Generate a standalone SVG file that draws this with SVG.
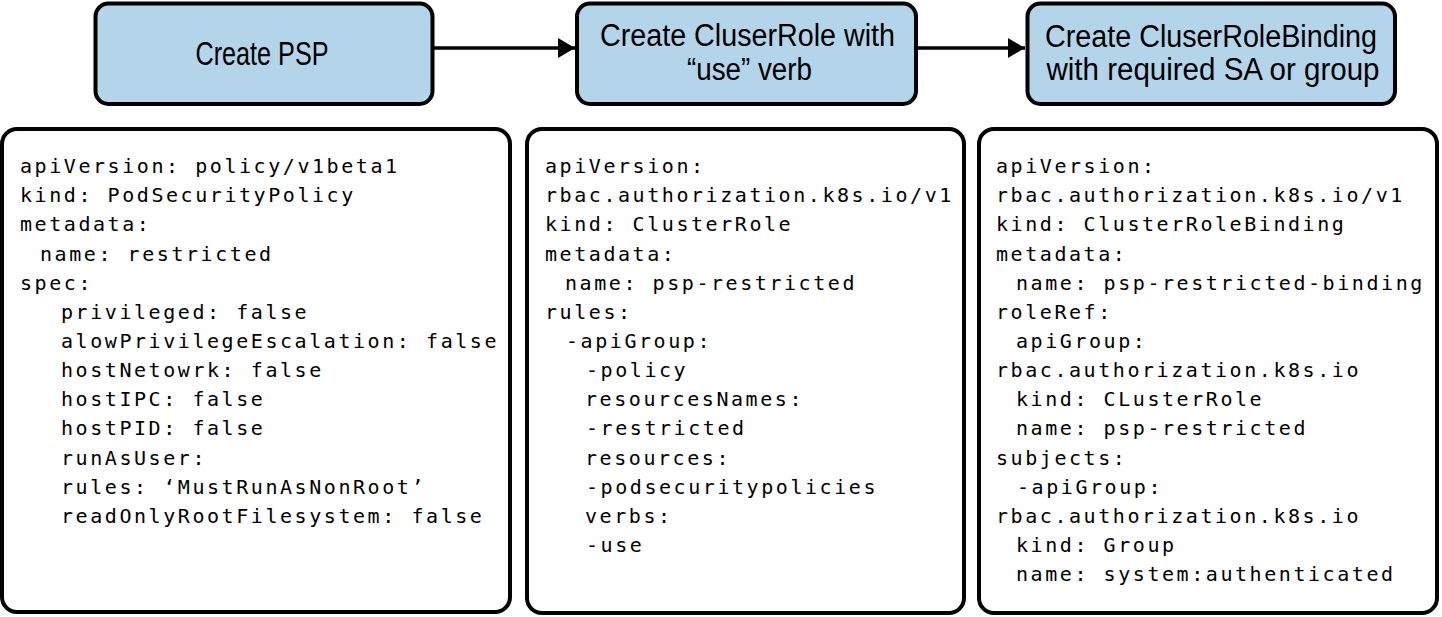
<svg xmlns="http://www.w3.org/2000/svg" width="1442" height="617" viewBox="0 0 1442 617">
<style>
.step{fill:#b3d4e9;stroke:#000;stroke-width:4}
.code{fill:#fff;stroke:#000;stroke-width:4}
.title{font-family:"Liberation Sans",Arial,sans-serif;font-size:31px;fill:#000;text-anchor:middle}
.mono{font-family:"DejaVu Sans Mono","Liberation Mono",monospace;font-size:20px;letter-spacing:2.56px;fill:#000}
.conn{stroke:#000;stroke-width:3.5;fill:none}
</style>
<defs>
<marker id="ah" markerUnits="userSpaceOnUse" markerWidth="18" markerHeight="20" refX="17" refY="10" orient="auto">
<path d="M0,0 L17,10 L0,20 Z" fill="#000"/>
</marker>
</defs>
<rect width="1442" height="617" fill="#fff"/>
<g id="connectors">
<line class="conn" x1="434" y1="48" x2="575" y2="48" marker-end="url(#ah)"/>
<line class="conn" x1="918" y1="48" x2="1025" y2="48" marker-end="url(#ah)"/>
</g>
<g id="step1">
<rect class="step" x="95.5" y="3.5" width="337" height="100.5" rx="13"/>
<text class="title" x="262" y="65" style="font-size:33px" textLength="133" lengthAdjust="spacingAndGlyphs">Create PSP</text>
</g>
<g id="step2">
<rect class="step" x="577" y="3.5" width="339" height="100.5" rx="13"/>
<text class="title" x="747.5" y="46" textLength="295" lengthAdjust="spacingAndGlyphs">Create CluserRole with</text>
<text class="title" x="749.5" y="80" textLength="125" lengthAdjust="spacingAndGlyphs">“use” verb</text>
</g>
<g id="step3">
<rect class="step" x="1027.5" y="3.5" width="367.5" height="100.5" rx="13"/>
<text class="title" x="1211" y="47" textLength="332" lengthAdjust="spacingAndGlyphs">Create CluserRoleBinding</text>
<text class="title" x="1213" y="80" textLength="333" lengthAdjust="spacingAndGlyphs">with required SA or group</text>
</g>
<g id="psp-yaml">
<rect class="code" x="2" y="129" width="508" height="483" rx="15"/>
<text class="mono" x="20" y="173">apiVersion: policy/v1beta1</text>
<text class="mono" x="20" y="202.2">kind: PodSecurityPolicy</text>
<text class="mono" x="20" y="231.3">metadata:</text>
<text class="mono" x="40" y="260.5">name: restricted</text>
<text class="mono" x="20" y="289.6">spec:</text>
<text class="mono" x="61" y="318.8">privileged: false</text>
<text class="mono" x="61" y="347.9">alowPrivilegeEscalation: false</text>
<text class="mono" x="61" y="377.1">hostNetowrk: false</text>
<text class="mono" x="61" y="406.2">hostIPC: false</text>
<text class="mono" x="61" y="435.4">hostPID: false</text>
<text class="mono" x="61" y="464.5">runAsUser:</text>
<text class="mono" x="61" y="493.7">rules: ‘MustRunAsNonRoot’</text>
<text class="mono" x="61" y="522.8">readOnlyRootFilesystem: false</text>
</g>
<g id="clusterrole-yaml">
<rect class="code" x="527" y="129" width="437" height="484" rx="15"/>
<text class="mono" x="545" y="173">apiVersion:</text>
<text class="mono" x="545" y="202.2">rbac.authorization.k8s.io/v1</text>
<text class="mono" x="545" y="231.3">kind: ClusterRole</text>
<text class="mono" x="545" y="260.5">metadata:</text>
<text class="mono" x="565" y="289.6">name: psp-restricted</text>
<text class="mono" x="545" y="318.8">rules:</text>
<text class="mono" x="566" y="347.9">-apiGroup:</text>
<text class="mono" x="586" y="377.1">-policy</text>
<text class="mono" x="585" y="406.2">resourcesNames:</text>
<text class="mono" x="586" y="435.4">-restricted</text>
<text class="mono" x="585" y="464.5">resources:</text>
<text class="mono" x="586" y="493.7">-podsecuritypolicies</text>
<text class="mono" x="585" y="522.8">verbs:</text>
<text class="mono" x="586" y="552">-use</text>
</g>
<g id="clusterrolebinding-yaml">
<rect class="code" x="979" y="129" width="458" height="484" rx="15"/>
<text class="mono" x="996" y="173">apiVersion:</text>
<text class="mono" x="996" y="202.2">rbac.authorization.k8s.io/v1</text>
<text class="mono" x="996" y="231.3">kind: ClusterRoleBinding</text>
<text class="mono" x="996" y="260.5">metadata:</text>
<text class="mono" x="1016" y="289.6">name: psp-restricted-binding</text>
<text class="mono" x="996" y="318.8">roleRef:</text>
<text class="mono" x="1016" y="347.9">apiGroup:</text>
<text class="mono" x="996" y="377.1">rbac.authorization.k8s.io</text>
<text class="mono" x="1016" y="406.2">kind: CLusterRole</text>
<text class="mono" x="1016" y="435.4">name: psp-restricted</text>
<text class="mono" x="996" y="464.5">subjects:</text>
<text class="mono" x="1017" y="493.7">-apiGroup:</text>
<text class="mono" x="996" y="522.8">rbac.authorization.k8s.io</text>
<text class="mono" x="1016" y="552">kind: Group</text>
<text class="mono" x="1016" y="581.1">name: system:authenticated</text>
</g>
</svg>
